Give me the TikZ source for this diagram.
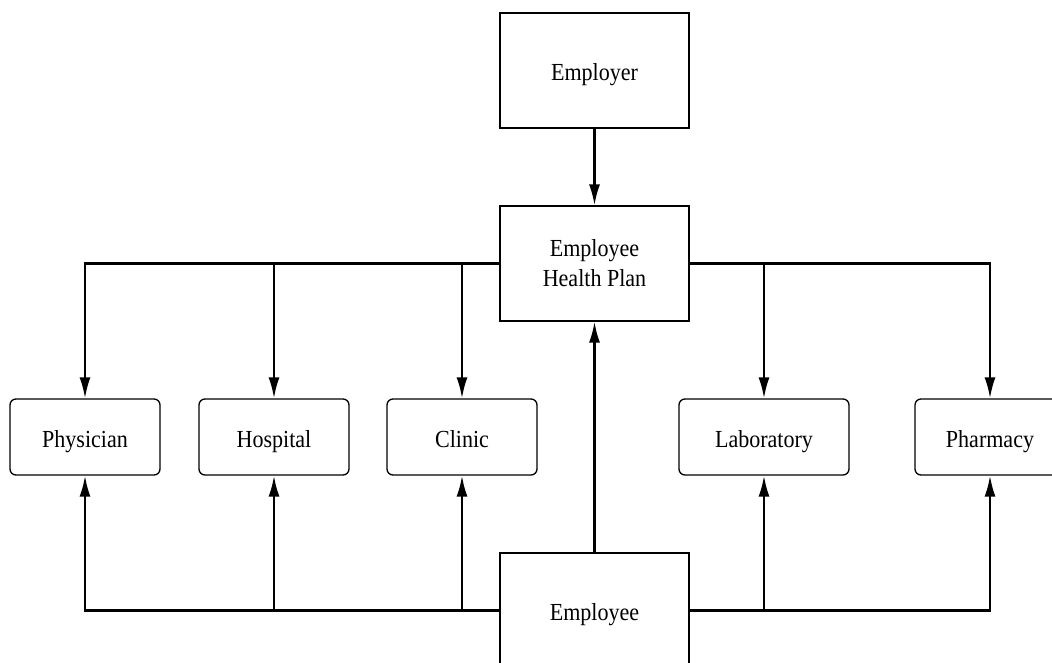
\documentclass[tikz,border=0pt]{standalone}
\usepackage{fontspec}
\setmainfont[FakeStretch=0.9]{Liberation Serif}
\usetikzlibrary{arrows.meta}
\tikzset{
  lbl/.style={font=\fontsize{24.5}{30}\selectfont},
  sqbox/.style={draw, line width=1.3pt, minimum width=189pt, minimum height=115pt, inner sep=0pt, align=center, lbl},
  onel/.style={text height=20pt, text depth=0pt},
  rbox/.style={draw, line width=1.3pt, rounded corners=6pt, minimum width=150pt, minimum height=76pt, inner sep=0pt, align=center, lbl, onel},
  conn/.style={line width=2.2pt, -{Latex[length=21pt,width=11pt]}}
}
\begin{document}
\begin{tikzpicture}[x=1pt,y=-1pt]
\useasboundingbox (0,0) rectangle (1052,663);
\clip (0,0) rectangle (1052,663);
\node[sqbox, onel] (employer) at (594.5,70.5) {Employer};
\node[sqbox] (plan) at (594.5,263.5) {Employee\\Health Plan};
\node[sqbox, onel] (employee) at (594.5,610.5) {Employee};
\node[rbox] (phys) at (85,437) {Physician};
\node[rbox] (hosp) at (274,437) {Hospital};
\node[rbox] (clinic) at (462,437) {Clinic};
\node[rbox, minimum width=170pt] (lab) at (764,437) {Laboratory};
\node[rbox] (pharm) at (990,437) {Pharmacy};
\draw[conn] (employer.south) -- (plan.north);
\draw[conn] (employee.north) -- (plan.south);
\draw[conn] (plan.west) -| (phys.north);
\draw[conn] (plan.west) -| (hosp.north);
\draw[conn] (plan.west) -| (clinic.north);
\draw[conn] (plan.east) -| (lab.north);
\draw[conn] (plan.east) -| (pharm.north);
\draw[conn] (employee.west) -| (phys.south);
\draw[conn] (employee.west) -| (hosp.south);
\draw[conn] (employee.west) -| (clinic.south);
\draw[conn] (employee.east) -| (lab.south);
\draw[conn] (employee.east) -| (pharm.south);
\end{tikzpicture}
\end{document}
